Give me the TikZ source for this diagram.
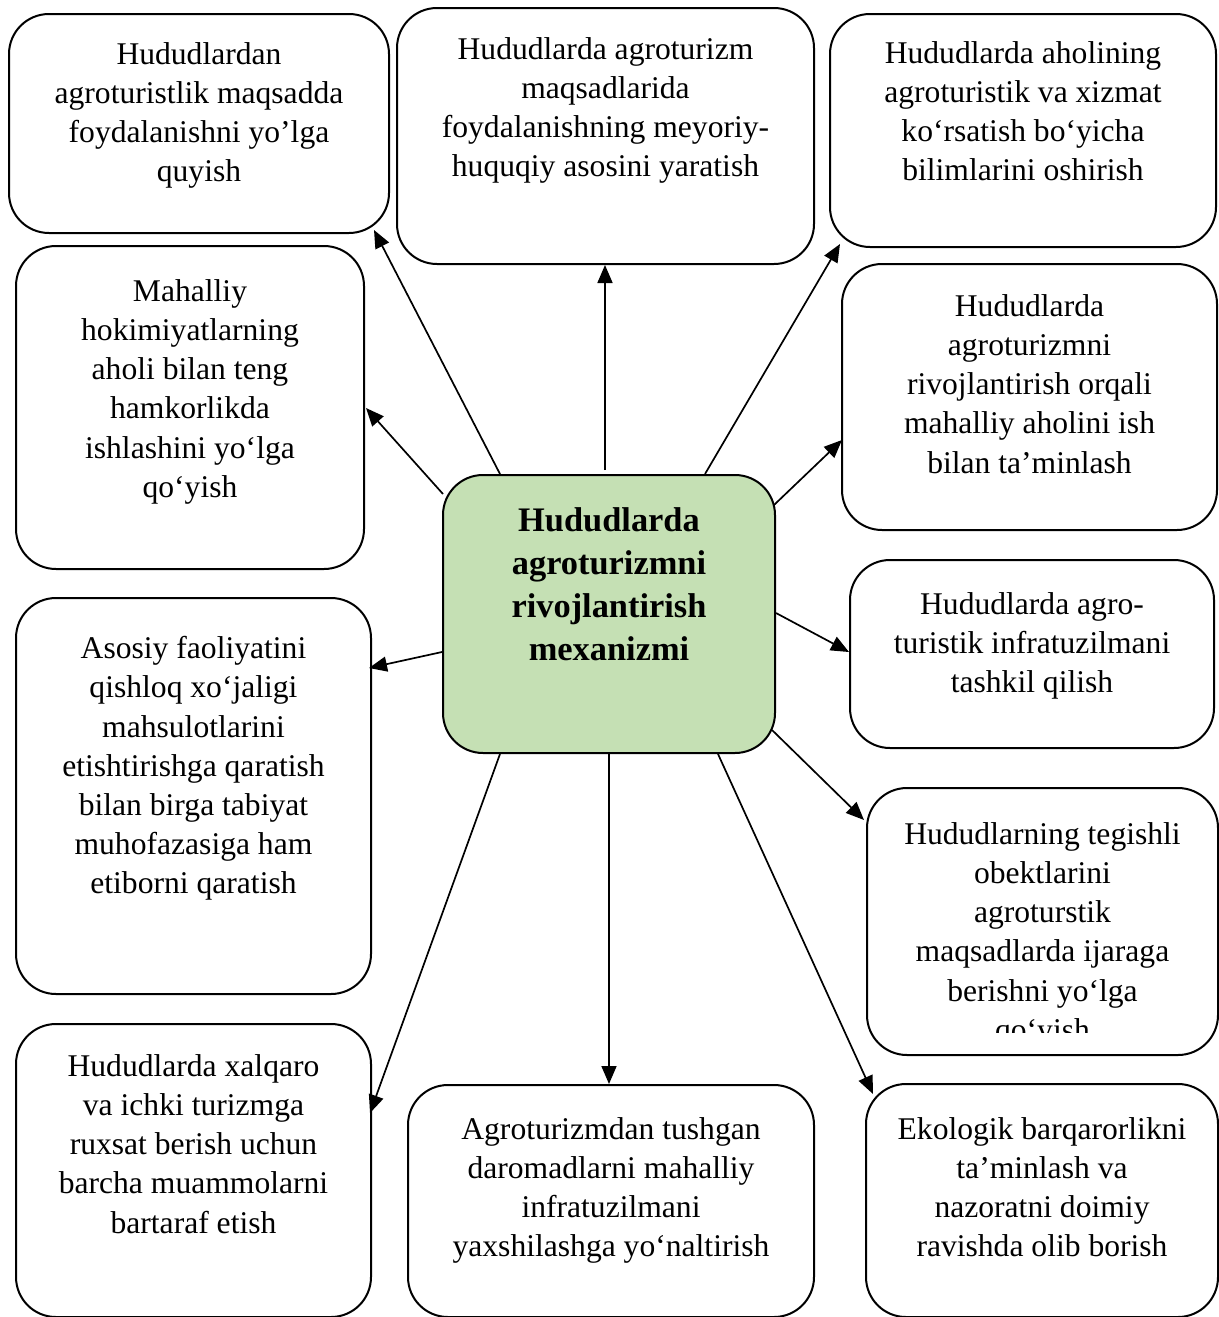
\documentclass[tikz,border=0pt]{standalone}
\usepackage{fontspec}
\setmainfont{Liberation Serif}
\usetikzlibrary{arrows.meta,calc}
\definecolor{cgreen}{HTML}{C5E0B4}
\begin{document}
\begin{tikzpicture}[x=0.5pt,y=-0.5pt,
  box/.style={draw=black,line width=1pt,rounded corners=20pt,inner sep=0pt,anchor=north west,fill=white},
  txt/.style={inner sep=0pt,anchor=north,align=center,font=\fontsize{15.8}{19.6}\selectfont},
  btxt/.style={inner sep=0pt,anchor=north,align=center,font=\fontsize{17.2}{21.6}\selectfont\bfseries},
  arr/.style={line width=0.85pt,-{Triangle[length=9pt,width=7.5pt]}}]
\useasboundingbox (0,0) rectangle (1219,1317);
% boxes
\node[box,minimum width=190pt,minimum height=109.5pt] (b1) at (8,13) {};
\node[box,minimum width=208.5pt,minimum height=128pt] (b2) at (396,7) {};
\node[box,minimum width=193pt,minimum height=116.5pt] (b3) at (829,13) {};
\node[box,minimum width=174pt,minimum height=161.5pt] (b4) at (15,245) {};
\node[box,minimum width=187.5pt,minimum height=133pt] (b5) at (841,263) {};
\node[box,fill=cgreen,minimum width=166pt,minimum height=139pt] (c) at (442,474) {};
\node[box,minimum width=177.5pt,minimum height=198pt] (b7) at (15,597) {};
\node[box,minimum width=182pt,minimum height=94pt] (b8) at (849,559) {};
\node[box,minimum width=175.5pt,minimum height=133.5pt] (b9) at (866,787) {};
\node[box,minimum width=177.5pt,minimum height=146.5pt] (b10) at (15,1023) {};
\node[box,minimum width=203pt,minimum height=116pt] (b11) at (407,1084) {};
\node[box,minimum width=176pt,minimum height=116.5pt] (b12) at (865,1083) {};
% texts
\node[txt] (t1) at ($(b1.north)+(0,29)$) {Hududlardan\\agroturistlik maqsadda\\foydalanishni yo’lga\\quyish};
\node[txt] (t2) at ($(b2.north)+(0,30)$) {Hududlarda agroturizm\\maqsadlarida\\foydalanishning meyoriy-\\huquqiy asosini yaratish};
\node[txt] (t3) at ($(b3.north)+(0,28)$) {Hududlarda aholining\\agroturistik va xizmat\\ko‘rsatish bo‘yicha\\bilimlarini oshirish};
\node[txt] (t4) at ($(b4.north)+(0,34)$) {Mahalliy\\hokimiyatlarning\\aholi bilan teng\\hamkorlikda\\ishlashini yo‘lga\\qo‘yish};
\node[txt] (t5) at ($(b5.north)+(0,31)$) {Hududlarda\\agroturizmni\\rivojlantirish orqali\\mahalliy aholini ish\\bilan ta’minlash};
\node[btxt] (tc) at ($(c.north)+(0,33)$) {Hududlarda\\agroturizmni\\rivojlantirish\\mexanizmi};
\node[txt] (t7) at ($(b7.north)+(0,39)$) {Asosiy faoliyatini\\qishloq xo‘jaligi\\mahsulotlarini\\etishtirishga qaratish\\bilan birga tabiyat\\muhofazasiga ham\\etiborni qaratish};
\node[txt] (t8) at ($(b8.north)+(0,33)$) {Hududlarda agro-\\turistik infratuzilmani\\tashkil qilish};
\begin{scope}
\clip (866,787) rectangle (1217,1032);
\node[txt] (t9) at ($(b9.north)+(0,35)$) {Hududlarning tegishli\\obektlarini\\agroturstik\\maqsadlarda ijaraga\\berishni yo‘lga\\qo‘yish};
\end{scope}
\node[txt] (t10) at ($(b10.north)+(0,31)$) {Hududlarda xalqaro\\va ichki turizmga\\ruxsat berish uchun\\barcha muammolarni\\bartaraf etish};
\node[txt] (t11) at ($(b11.north)+(0,33)$) {Agroturizmdan tushgan\\daromadlarni mahalliy\\infratuzilmani\\yaxshilashga yo‘naltirish};
\node[txt] (t12) at ($(b12.north)+(0,34)$) {Ekologik barqarorlikni\\ta’minlash va\\nazoratni doimiy\\ravishda olib borish};
% arrows
\draw[arr] ($(c.north west)+(58,0)$) -- ($(b1.south east)+(-16,-4)$);
\draw[arr] ($(c.north)+(-4,-4)$) -- ($(b2.south)+(-0.5,0)$);
\draw[arr] ($(c.north west)+(263,0)$) -- ($(b3.south west)+(11,-4)$);
\draw[arr] ($(c.north west)+(1,20)$) -- ($(b4.north east)+(1,163)$);
\draw[arr] ($(c.north east)+(-2,31)$) -- ($(b5.north west)+(1,177)$);
\draw[arr] ($(c.north west)+(0,178)$) -- ($(b7.north east)+(-3,71)$);
\draw[arr] ($(c.north east)+(0,139)$) -- ($(b8.north west)+(0,93)$);
\draw[arr] ($(c.north east)+(-4,256)$) -- ($(b9.north west)+(-2,33)$);
\draw[arr] ($(c.south west)+(276,0)$) -- ($(b12.north west)+(8,11)$);
\draw[arr] (c.south) -- (b11.north -| c.south);
\draw[arr] ($(c.south west)+(58,0)$) -- ($(b10.north east)+(-2,90)$);
\end{tikzpicture}
\end{document}
